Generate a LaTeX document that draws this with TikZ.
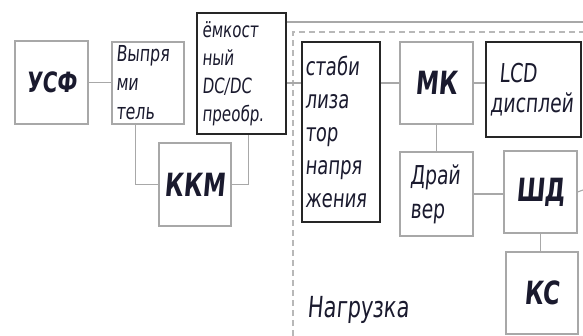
\documentclass[tikz,border=0pt]{standalone}
\usepackage{fontspec}
\setmainfont{DejaVu Sans Condensed}[FakeStretch=0.8, FakeSlant=0.09]
\usepackage{tikz}
\usetikzlibrary{calc}
\definecolor{boxgray}{HTML}{A8A8A8}
\definecolor{dashgray}{HTML}{B8B8B8}
\definecolor{ink}{HTML}{1A1A2E}
\tikzset{
    blok/.style={draw=boxgray, line width=1.2pt, text=ink, inner sep=0pt},
    tolst/.style={draw=black!85, line width=1.8pt, text=ink, inner sep=0pt},
    provod/.style={draw=boxgray, line width=1.1pt},
    granica/.style={draw=dashgray, line width=2pt, dash pattern=on 6pt off 4pt},
    krupno/.style={font=\fontsize{32}{34}\selectfont\bfseries},
}
\begin{document}
\begin{tikzpicture}[x=1pt,y=-1pt]
            \useasboundingbox (0,0) rectangle (583,336);
            \draw[granica] (293,336) -- (293,32) -- (583,32);
            \node[blok, font=\fontsize{28}{30}\selectfont\bfseries, minimum width=73, minimum height=83] (usf) at (51.5,82.5) {УСФ};
            \node[blok, minimum width=72, minimum height=82, text width=64, align=left, font=\fontsize{22}{29}\selectfont] (vypr) at (148,83) {Выпря\\ми\\тель};
            \node[tolst, minimum width=89, minimum height=121, text width=79, align=left, font=\fontsize{21}{28}\selectfont] (dcdc) at (241.5,73.5) {ёмкост\\ный\\DC/DC\\преобр.};
            \node[blok, krupno, minimum width=72, minimum height=83] (kkm) at (195,184.5) {ККМ};
            \node[tolst, minimum width=78, minimum height=180, text width=72, align=left, font=\fontsize{25}{33}\selectfont] (stab) at (341,132) {стаби\\лиза\\тор\\напря\\жения};
            \node[blok, krupno, minimum width=73, minimum height=82] (mk) at (436.5,83) {МК};
            \node[tolst, minimum width=95, minimum height=95, text width=87, align=left, font=\fontsize{26}{30}\selectfont] (lcd) at (533.5,89.5) {\hspace*{9pt}LCD\\дисплей};
            \node[blok, minimum width=73, minimum height=84, text width=53, align=left, font=\fontsize{26}{34}\selectfont] (drv) at (436.5,194) {Драй\\вер};
            \node[blok, krupno, minimum width=73, minimum height=82] (shd) at (540.5,192) {ШД};
            \node[blok, krupno, minimum width=72, minimum height=82] (ks) at (542,293) {КС};
            \node[text=ink, anchor=south west, font=\fontsize{29}{31}\selectfont] (nagr) at (304,327) {Нагрузка};
            \coordinate (shina) at (583,22);
            \coordinate (vyhod) at (583,190);
            \draw[provod] (usf.east) -- (vypr.west |- usf.east);
            \draw[provod] ([xshift=24]vypr.south west) |- (kkm.west);
            \draw[provod] (kkm.east) -| ([xshift=-38]dcdc.south east);
            \draw[provod] (dcdc.east |- mk.west) -- (stab.west |- mk.west);
            \draw[provod] (stab.east |- mk.west) -- (mk.west);
            \draw[provod] (mk.east) -- (mk.east -| lcd.west);
            \draw[provod] (mk.south) -- (drv.north);
            \draw[provod] (drv.east) -- (drv.east -| shd.west);
            \draw[provod] (shd.south) -- (shd.south |- ks.north);
            \draw[provod] (shd.east) -- (vyhod);
            \draw[provod] (dcdc.east |- shina) -- (shina);
        \end{tikzpicture}
\end{document}
